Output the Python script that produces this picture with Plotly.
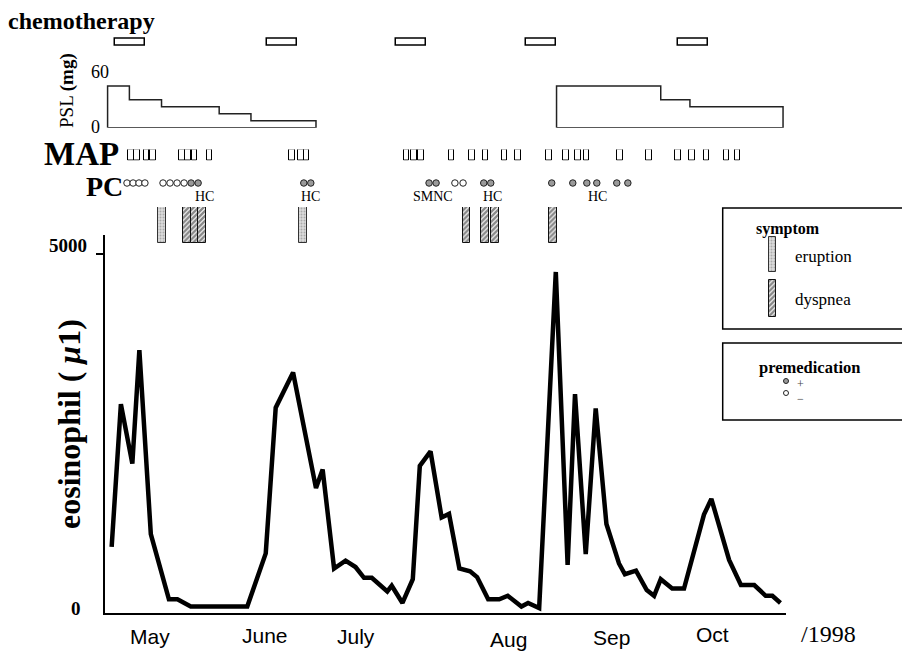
import plotly.graph_objects as go

# page shows the figure offset by the default 8px body margin
OX, OY = 8, 8
W, H = 902, 644

# ---------------- data (x = days from 1 May 1998) ----------------
eos_day = [1.8, 4.3, 7.4, 9.3, 12.4, 17.3, 19.6, 23.2, 38.5, 43.5, 46.2, 48.9, 50.9, 57.1, 58.9,
           62.0, 65.1, 67.8, 70.1, 72.2, 76.4, 77.6, 80.5, 83.3, 85.2, 88.1, 91.1, 93.1, 95.9, 98.8,
           100.7, 103.7, 106.7, 109.0, 112.7, 114.5, 117.5, 122.0, 125.2, 127.2, 130.1, 132.8, 135.7,
           139.1, 140.7, 143.7, 146.6, 148.6, 150.4, 153.5, 156.7, 162.1, 164.1, 168.9, 172.1, 175.7,
           178.8, 180.6, 182.8]
eos_val = [920, 2910, 2080, 3660, 1100, 190, 190, 90, 90, 830, 2860, 3150, 3350, 1740, 2000,
           620, 730, 640, 490, 490, 300, 380, 140, 470, 2050, 2250, 1330, 1380, 620, 580,
           500, 190, 190, 240, 90, 140, 70, 4750, 670, 3050, 820, 2850, 1240,
           690, 540, 590, 320, 240, 470, 340, 340, 1370, 1590, 740, 390, 390,
           240, 240, 140]

chemo_start = [2.7, 43.8, 78.7, 113.9, 155.0]
chemo_end = [10.8, 51.9, 86.9, 122.0, 163.1]

psl1_edges = [0.7, 6.6, 15.3, 30.9, 39.5, 57.1]
psl1_dose = [45, 30, 22.5, 15, 7.5]
psl2_edges = [122.2, 150.4, 158.3, 183.5]
psl2_dose = [45, 30, 22.5]

map_day = [7.1, 8.7, 11.2, 12.9, 20.9, 22.5, 24.2, 28.3, 50.6, 53.0, 54.5,
           81.6, 83.6, 85.5, 93.8, 99.4, 103.0, 108.1, 111.8, 120.2, 124.7, 128.1, 130.3,
           139.3, 147.3, 155.0, 158.8, 162.8, 168.2, 171.2]

pc_day = [5.95, 7.6, 9.2, 10.8, 15.7, 17.6, 19.5, 21.4, 23.3, 25.2, 53.8, 55.7,
          87.7, 89.6, 94.7, 96.9, 102.5, 104.4, 120.9, 126.6, 130.4, 133.1, 138.5, 141.5]
pc_premed = [0, 0, 0, 0, 0, 0, 0, 0, 1, 1, 1, 1,
             1, 1, 0, 0, 1, 1, 1, 1, 1, 1, 1, 1]
pc_label_text = ["HC", "HC", "SMNC", "HC", "HC"]
pc_label_day = [26.8, 55.5, 88.7, 105.0, 133.4]

eruption_day = [15.4, 53.6]
dyspnea_day = [22.2, 24.2, 26.2, 97.8, 102.8, 105.5, 121.2]

months = ["May", "June", "July", "Aug", "Sep", "Oct"]
month_day = [12.2, 43.3, 68.0, 109.2, 137.0, 164.4]
month_ypx = [636, 635, 636, 639, 637, 634]

# ---------------- helpers ----------------
SERIF = "Liberation Serif, Times New Roman, serif"
SANS = "Liberation Sans Narrow, Liberation Sans, Arial, sans-serif"


def xp(px):
    return (px - OX) / W


def yp(py):
    return 1 - (py - OY) / H


def ydom(top_px, bot_px):
    return [yp(bot_px), yp(top_px)]


def step_outline(edges, dose):
    px, py = [edges[0], edges[0]], [0, dose[0]]
    for i in range(len(dose)):
        nxt = dose[i + 1] if i + 1 < len(dose) else 0
        px += [edges[i + 1], edges[i + 1]]
        py += [dose[i], nxt]
    px += [edges[0]]
    py += [0]
    return px, py


XD = [xp(105), xp(786)]
XR = [0, 184.3]

fig = go.Figure()

# main eosinophil line
fig.add_trace(go.Scatter(x=eos_day, y=eos_val, mode="lines",
                         line=dict(color="black", width=4.5), xaxis="x", yaxis="y",
                         showlegend=False, hoverinfo="x+y"))

# chemotherapy bars
fig.add_trace(go.Bar(y=[0.5] * len(chemo_start),
                     x=[e - s for s, e in zip(chemo_start, chemo_end)],
                     base=chemo_start, orientation="h", width=0.5,
                     marker=dict(color="white", line=dict(color="black", width=1.5)),
                     xaxis="x", yaxis="y2", showlegend=False))

# PSL step outlines
for edges, dose in [(psl1_edges, psl1_dose), (psl2_edges, psl2_dose)]:
    sx, sy = step_outline(edges, dose)
    fig.add_trace(go.Scatter(x=sx, y=sy, mode="lines",
                             line=dict(color="#222", width=1.5),
                             xaxis="x", yaxis="y3", showlegend=False))

# MAP boxes
fig.add_trace(go.Bar(x=map_day, y=[1] * len(map_day), width=1.55,
                     marker=dict(color="white", line=dict(color="black", width=1)),
                     xaxis="x", yaxis="y4", showlegend=False))

# PC circles
fig.add_trace(go.Scatter(x=pc_day, y=[0.5] * len(pc_day), mode="markers",
                         marker=dict(size=6.5,
                                     color=["#9a9a9a" if p else "white" for p in pc_premed],
                                     line=dict(color="#222", width=1)),
                         xaxis="x", yaxis="y5", showlegend=False))

# symptom bars
ERUPT = dict(color="#d6d6d6", line=dict(color="#333", width=1),
             pattern=dict(shape=".", fgcolor="#777", bgcolor="#dcdcdc", size=3, solidity=0.35))
DYSP = dict(color="white", line=dict(color="#111", width=1),
            pattern=dict(shape="/", fgcolor="#111", bgcolor="white", size=3.5, solidity=0.7))
fig.add_trace(go.Bar(x=eruption_day, y=[1] * len(eruption_day), width=2.1, marker=ERUPT,
                     xaxis="x", yaxis="y6", showlegend=False))
fig.add_trace(go.Bar(x=dyspnea_day, y=[1] * len(dyspnea_day), width=2.1, marker=DYSP,
                     xaxis="x", yaxis="y6", showlegend=False))

# legend keys (drawn on a pixel-space overlay axis)
fig.add_trace(go.Bar(x=[772], y=[35], base=[237], width=7, marker=ERUPT,
                     xaxis="x2", yaxis="y7", showlegend=False, hoverinfo="skip"))
fig.add_trace(go.Bar(x=[772], y=[37], base=[280], width=7, marker=DYSP,
                     xaxis="x2", yaxis="y7", showlegend=False, hoverinfo="skip"))
fig.add_trace(go.Scatter(x=[786, 786], y=[381, 393], mode="markers",
                         marker=dict(size=5, color=["#9a9a9a", "white"],
                                     line=dict(color="#222", width=1)),
                         xaxis="x2", yaxis="y7", showlegend=False, hoverinfo="skip"))

hidden = dict(visible=False, showgrid=False, zeroline=False, fixedrange=True)

fig.update_layout(
    width=W, height=H, margin=dict(l=0, r=0, t=0, b=0),
    paper_bgcolor="white", plot_bgcolor="rgba(0,0,0,0)",
    barmode="overlay", bargap=0,
    xaxis=dict(domain=XD, range=XR, anchor="y", showline=True, linecolor="black", linewidth=1.5,
               showticklabels=False, ticks="", showgrid=False, zeroline=False),
    yaxis=dict(domain=ydom(235, 613), range=[0, 5265], anchor="x", showline=True,
               linecolor="black", linewidth=1.5, tickvals=[5000], ticks="outside", ticklen=7,
               tickwidth=1.5, tickcolor="black", showticklabels=False, showgrid=False,
               zeroline=False),
    yaxis2=dict(domain=ydom(35.8, 48.8), range=[0, 1], anchor="x", **hidden),
    yaxis3=dict(domain=ydom(72, 127.7), range=[0, 60], anchor="x", **hidden),
    yaxis4=dict(domain=ydom(149.5, 160.5), range=[0, 1], anchor="x", **hidden),
    yaxis5=dict(domain=ydom(177, 189), range=[0, 1], anchor="x", **hidden),
    yaxis6=dict(domain=ydom(207, 243), range=[0, 1], anchor="x", **hidden),
    xaxis2=dict(domain=[0, 1], range=[OX, OX + W], anchor="y7", **hidden),
    yaxis7=dict(domain=[0, 1], range=[OY + H, OY], anchor="x2", **hidden),
)


def ann(text, xpx, ypx, size, family=SERIF, xanchor="center", angle=0, color="black"):
    fig.add_annotation(text=text, x=xp(xpx), y=yp(ypx), xref="paper", yref="paper",
                       showarrow=False, xanchor=xanchor, yanchor="middle", textangle=angle,
                       font=dict(family=family, size=size, color=color))


ann("<b>chemotherapy</b>", 6, 21, 24, xanchor="left")
ann("PSL <b>(mg)</b>", 67, 91, 19, angle=-90)
ann("60", 100, 72, 18)
ann("0", 95, 127, 18)
ann("<b>MAP</b>", 81, 154, 33)
ann("<b>PC</b>", 104, 186, 28)
for t, d in zip(pc_label_text, pc_label_day):
    fig.add_annotation(text=t, x=d, y=yp(197), xref="x", yref="paper", showarrow=False,
                       yanchor="middle", font=dict(family=SERIF, size=14, color="black"))
ann("<b>5000</b>", 89, 246, 19, xanchor="right")
ann("<b>0</b>", 83, 608, 19, xanchor="right")
ann("<b>eosinophil ( <i>μ</i>1)</b>", 69, 424, 32, angle=-90)
for m, d, ym in zip(months, month_day, month_ypx):
    fig.add_annotation(text=m, x=d, y=yp(ym), xref="x", yref="paper", showarrow=False,
                       yanchor="middle", font=dict(family=SANS, size=21, color="black"))
ann("/1998", 828, 634, 24)

# legend boxes
fig.add_shape(type="rect", xref="paper", yref="paper", x0=xp(722.7), x1=1.02,
              y0=yp(329), y1=yp(208), line=dict(color="black", width=1.5))
fig.add_shape(type="rect", xref="paper", yref="paper", x0=xp(722.7), x1=1.02,
              y0=yp(420), y1=yp(343), line=dict(color="black", width=1.5))
ann("<b>symptom</b>", 788, 229, 16)
ann("eruption", 793, 256, 17, xanchor="left")
ann("dyspnea", 793, 299, 17, xanchor="left")
ann("<b>premedication</b>", 809, 368, 16.5)
ann("+", 800, 384, 12, color="#444")
ann("−", 800, 399, 12, color="#444")

fig.write_html("out.html")
